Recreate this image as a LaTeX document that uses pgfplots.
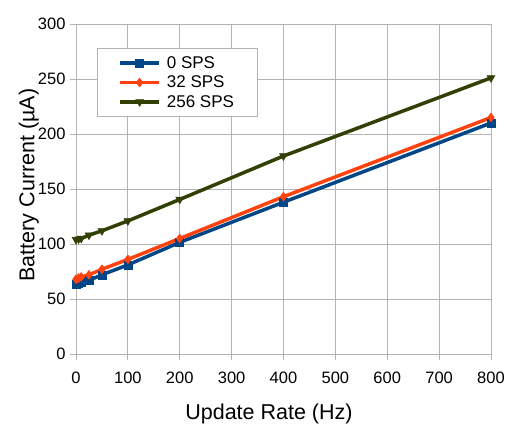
\documentclass[border=0pt]{standalone}
\usepackage{pgfplots}
\pgfplotsset{compat=1.18}
\usepackage{fontspec}
\setmainfont{Liberation Sans}
\definecolor{cblue}{HTML}{004586}
\definecolor{corange}{HTML}{FF420E}
\definecolor{cgreen}{HTML}{314004}
\definecolor{cgrid}{HTML}{B3B3B3}
\begin{document}
\begin{tikzpicture}
\begin{axis}[
  at={(0,0)}, anchor=south west,
  scale only axis, width=415pt, height=330pt,
  xmin=0, xmax=800, ymin=0, ymax=300,
  xtick={0,100,...,800}, ytick={0,50,...,300},
  grid=major, major grid style={cgrid, line width=0.8pt},
  axis line style={cgrid, line width=0.8pt},
  tick style={cgrid, line width=0.8pt},
  tick align=outside, major tick length=6pt,
  xtick pos=bottom, ytick pos=left,
  /pgf/number format/assume math mode=true,
  ticklabel style={font=\fontsize{16.5}{18}\selectfont},
  xticklabel style={yshift=-8pt},
  yticklabel style={xshift=-1pt},
  xlabel={Update Rate (Hz)}, ylabel={Battery Current (µA)},
  label style={font=\fontsize{21.5}{24}\selectfont},
  xlabel style={at={(axis description cs:0.465,-0.2)}, anchor=base},
  ylabel style={at={(axis description cs:-0.1,0.512)}, anchor=base},
  legend style={at={(0.0506,0.927)}, anchor=north west, draw=cgrid, line width=0.8pt,
    font=\fontsize{17}{19}\selectfont, inner xsep=21pt, inner ysep=6pt, row sep=2pt,
    cells={anchor=west}},
  legend image code/.code={
    \draw[mark repeat=2,mark phase=2] plot coordinates {(0pt,0pt) (19.5pt,0pt) (39pt,0pt)};
    \path (43pt,0pt);},
  legend cell align=left,
]
\addplot[cblue, line width=3.5pt, mark=square*, mark size=4pt, mark options={line width=0.5pt}] coordinates {
 (0,63) (5,64) (10,65) (25,67) (50,72) (100,81) (200,101.5) (400,138) (800,210)};
\addlegendentry{0 SPS}
\addplot[corange, line width=3.5pt, mark=diamond*, mark size=4.5pt, mark options={line width=0.5pt}] coordinates {
 (0,68) (5,69) (10,70) (25,72) (50,77) (100,86) (200,105) (400,143) (800,215)};
\addlegendentry{32 SPS}
\addplot[cgreen, line width=3.5pt, mark=triangle*, mark size=4.5pt, mark options={rotate=180, line width=0.5pt}] coordinates {
 (0,104) (5,104.5) (10,105) (25,108) (50,112) (100,121) (200,140.5) (400,180) (800,251)};
\addlegendentry{256 SPS}
\end{axis}
\pgfresetboundingbox
\useasboundingbox (-76pt,-87pt) rectangle (432pt,354pt);
\end{tikzpicture}
\end{document}
